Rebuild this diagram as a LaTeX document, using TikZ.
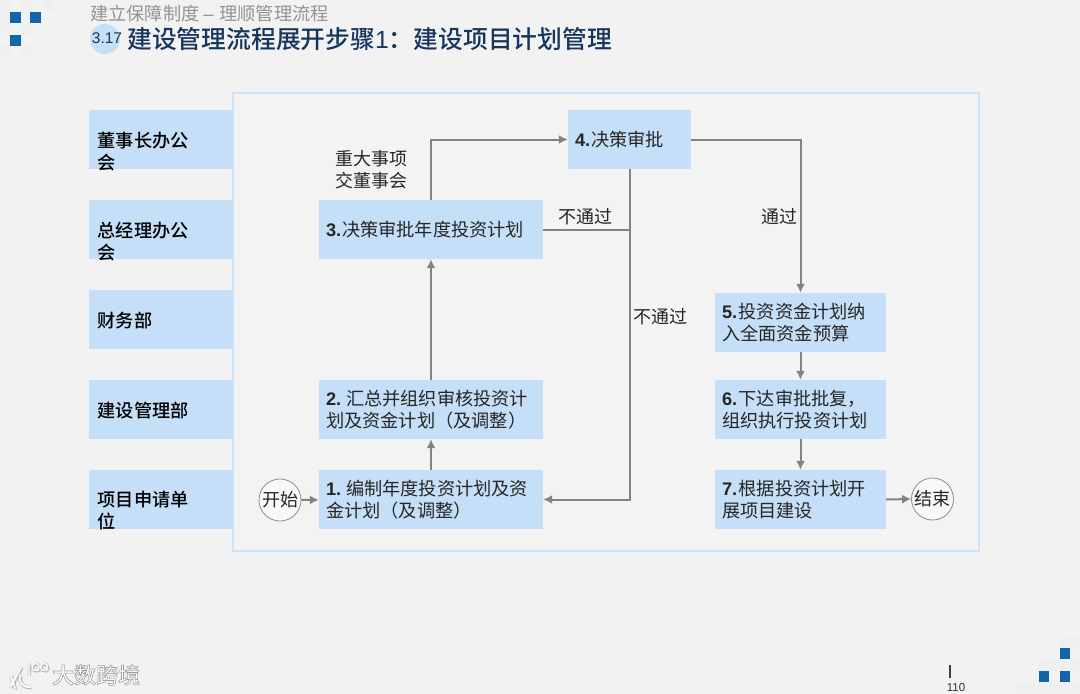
\documentclass[tikz,border=0pt]{standalone}
\usepackage{fontspec}
\setmainfont{Liberation Sans}
\newfontfamily\cjk{Noto Sans CJK SC}
\newfontfamily\cjkm{Noto Sans CJK SC Medium}
\newcommand{\numlab}[2]{{\rmfamily\bfseries #1}\hspace{#2}}
\usetikzlibrary{arrows.meta}
\definecolor{pagebg}{HTML}{F2F2F2}
\definecolor{boxblue}{HTML}{C6DFF8}
\definecolor{framec}{HTML}{CFE3F8}
\definecolor{linegray}{HTML}{828282}
\definecolor{navy}{HTML}{17365D}
\definecolor{deco}{HTML}{1264AC}
\definecolor{txt}{HTML}{262626}
\tikzset{
  x=1pt,y=-1pt,
  flowbox/.style={rectangle,fill=boxblue,inner xsep=7pt,inner ysep=0pt,align=left,text=txt,font=\cjk\fontsize{18.2}{22}\selectfont},
  lanebox/.style={rectangle,fill=boxblue,inner sep=0pt,minimum width=144pt,minimum height=59pt},
  lanetext/.style={anchor=west,inner sep=0pt,align=left,text=black,font=\cjkm\fontsize{18.2}{22}\selectfont},
  plain/.style={inner sep=0pt,align=center,text=txt,font=\cjk\fontsize{18}{22}\selectfont},
  term/.style={circle,draw=gray!90,line width=0.8pt,fill=pagebg!50!white,inner sep=0pt,minimum size=42pt,text=txt,font=\cjk\fontsize{18}{22}\selectfont},
  flow/.style={draw=linegray,line width=2pt,-{Latex[length=9pt,width=9pt]}},
  flownt/.style={draw=linegray,line width=2pt},
  decosq/.style={fill=deco},
  greysq/.style={fill=black!7},
}
\begin{document}
\begin{tikzpicture}
\useasboundingbox (0,0) rectangle (1080,694);
\fill[pagebg] (0,0) rectangle (1080,694);
% corner decoration, grey
\foreach \a/\b in {0/0,22/0,44/0,0/22,22/24,0/46,0/10,22/46}{\fill[greysq,opacity=.6] (\a,\b) rectangle +(10,11);}
\foreach \a/\b in {1060/638,1038/660,1060/660,1038/683,1060/683,1016/683}{\fill[greysq,opacity=.6] (\a,\b) rectangle +(20,11);}
\fill[decosq] (10,12) rectangle (21,23);
\fill[decosq] (30,12) rectangle (41,23);
\fill[decosq] (10,35) rectangle (21,46);
\fill[decosq] (1039,671) rectangle (1049,682);
\fill[decosq] (1060,648) rectangle (1070,659);
\fill[decosq] (1060,671) rectangle (1070,682);
% header
\node[circle,fill=boxblue,minimum size=30pt,inner sep=0pt] (badge) at (105,39) {};
\node[anchor=west,inner sep=0pt,text=gray!85,font=\cjk\fontsize{18.2}{22}\selectfont] (sub) at (90,14) {建立保障制度\hspace{4pt}{\rmfamily –}\hspace{6pt}理顺管理流程};
\node[anchor=center,inner sep=0pt,text=navy,font=\rmfamily\fontsize{15.5}{18}\selectfont] (num) at (107,38) {3.17};
\node[anchor=west,inner sep=0pt,text=navy,font=\cjkm\fontsize{24.8}{28}\selectfont] (title) at (127,39) {建设管理流程展开步骤{\rmfamily 1}：建设项目计划管理};
% frame
\draw[framec,line width=2pt,fill=pagebg!90!white] (233,93) rectangle (979,551);
% lanes
\node[lanebox] (l1) at (161,139.5) {};
\node[lanebox] (l2) at (161,229.5) {};
\node[lanebox] (l3) at (161,319.5) {};
\node[lanebox] (l4) at (161,409.5) {};
\node[lanebox] (l5) at (161,499.5) {};
\node[lanetext] (t1) at (97.5,152) {董事长办公\\会};
\node[lanetext] (t2) at (97.5,242) {总经理办公\\会};
\node[lanetext] (t3) at (97.5,321) {财务部};
\node[lanetext] (t4) at (97.5,411) {建设管理部};
\node[lanetext] (t5) at (97.5,511) {项目申请单\\位};
% process
\node[flowbox,minimum width=224pt,minimum height=59pt,text width=210pt] (b1) at (431,499.5) {\numlab{1.}{5pt}编制年度投资计划及资\\金计划（及调整）};
\node[flowbox,minimum width=224pt,minimum height=59pt,text width=210pt] (b2) at (431,409.5) {\numlab{2.}{5pt}汇总并组织审核投资计\\划及资金计划（及调整）};
\node[flowbox,minimum width=224pt,minimum height=59pt,text width=210pt] (b3) at (431,229.5) {\numlab{3.}{1pt}决策审批年度投资计划};
\node[flowbox,minimum width=123pt,minimum height=59pt,text width=109pt,inner xsep=7pt] (b4) at (629.5,139.5) {\numlab{4.}{1pt}决策审批};
\node[flowbox,minimum width=171pt,minimum height=59pt,text width=157pt] (b5) at (800.5,322.5) {\numlab{5.}{1.5pt}投资资金计划纳\\入全面资金预算};
\node[flowbox,minimum width=171pt,minimum height=59pt,text width=157pt] (b6) at (800.5,409.5) {\numlab{6.}{1.5pt}下达审批批复，\\组织执行投资计划};
\node[flowbox,minimum width=171pt,minimum height=59pt,text width=157pt] (b7) at (800.5,499.5) {\numlab{7.}{1.5pt}根据投资计划开\\展项目建设};
\node[term] (start) at (280,500) {开始};
\node[term] (end) at (932.5,499) {结束};
% labels
\node[plain] (major) at (371,170) {重大事项\\交董事会};
\node[plain] (n1) at (585.5,217) {不通过};
\node[plain] (n2) at (660,317) {不通过};
\node[plain] (p1) at (779,217) {通过};
% connectors
\draw[flow] (start) -- (b1);
\draw[flow] (b1.north) -- (b2.south);
\draw[flow] (b2.north) -- (b3.south);
\draw[flow] (b3.north) |- (b4.west);
\draw[flow] (b4.east) -| (b5.north);
\draw[flow] (b5.south) -- (b6.north);
\draw[flow] (b6.south) -- (b7.north);
\draw[flow] (b7.east) -- (end.west);
\draw[flow] (b4.south) |- (b1.east);
\coordinate (join) at (b3.east -| b4.south);
\draw[flownt] (b3.east) -- (join);
% page number
\coordinate (tickA) at (950,665);
\coordinate (tickB) at (950,678);
\draw[black!75,line width=1.2pt] (tickA) -- (tickB);
\node[inner sep=0pt,text=black!80,font=\rmfamily\fontsize{11.5}{12}\selectfont] (pg) at (956,688) {110};
% watermark
\node[inner sep=0pt,anchor=west,text=white,font=\cjkm\fontsize{22}{24}\selectfont] (wm) at (52,675) {\special{pdf:code q 2 Tr 0.6 w 0.62 0.62 0.62 RG}大数跨境\special{pdf:code Q}};
\foreach \dx/\dy/\c/\o in {1.5/1.5/black/.18,-0.8/0.8/black/.15,0.8/-0.8/black/.12,0/0/white/1}{
  \begin{scope}[shift={(\dx,\dy)}]
  \draw[\c,opacity=\o,line width=1.7pt,line cap=round] (11,676) -- (15,688) (11,686) -- (21,667) (30,687) .. controls (22,688) and (18,680) .. (20,675);
  \draw[\c,opacity=\o,line width=1.3pt] (29,663) -- (29,674) (35.5,667) circle[radius=3.6pt] (44,667) circle[radius=3.6pt];
  \end{scope}
}
\end{tikzpicture}
\end{document}
